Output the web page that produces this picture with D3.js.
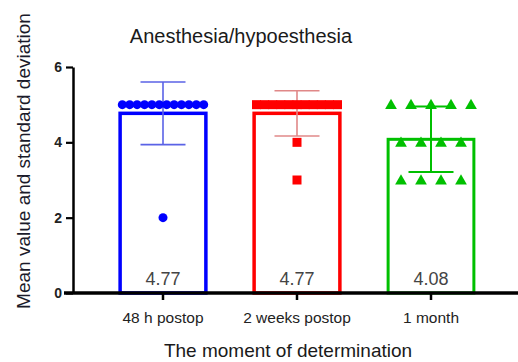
<!DOCTYPE html>
<html>
<head>
<meta charset="utf-8">
<script src="https://cdn.jsdelivr.net/npm/d3@7"></script>
<style>
  body { margin: 0; background: #fff; }
  text { font-family: "Liberation Sans", Arial, sans-serif; }
</style>
</head>
<body>
<svg id="chart" width="518" height="362"></svg>
<script>
// data
const categories = ["48 h postop", "2 weeks postop", "1 month"];
const means = [4.77, 4.77, 4.08];
const sds = [0.83, 0.6, 0.87];
const points48h = [5, 5, 5, 5, 5, 5, 5, 5, 5, 5, 5, 5, 2];
const points2w = [5, 5, 5, 5, 5, 5, 5, 5, 5, 5, 5, 4, 3];
const points1m = [5, 5, 5, 5, 5, 4, 4, 4, 4, 3, 3, 3, 3];
const yTicks = [0, 2, 4, 6];

const colors = ["#0000ff", "#ff0000", "#00c000"];
const errColors = ["#5a62e6", "#e08888", "#00c000"];

const svg = d3.select("#chart");

const xScale = d3.scaleBand()
    .domain(categories)
    .range([96, 498])
    .paddingInner(0.36)
    .paddingOuter(0.18);
const yScale = d3.scaleLinear()
    .domain([0, 6])
    .range([293, 67]);

// title
svg.append("text")
    .attr("x", 241).attr("y", 43)
    .attr("text-anchor", "middle")
    .attr("font-size", 20)
    .attr("fill", "#1a1a1a")
    .text("Anesthesia/hypoesthesia");

// y axis title
svg.append("text")
    .attr("transform", "translate(30,161) rotate(-90)")
    .attr("text-anchor", "middle")
    .attr("font-size", 19)
    .attr("fill", "#1a1a2a")
    .text("Mean value and standard deviation");

// x axis title
svg.append("text")
    .attr("x", 288).attr("y", 357)
    .attr("text-anchor", "middle")
    .attr("font-size", 19)
    .attr("fill", "#1a1a1a")
    .text("The moment of determination");

// bars
const bars = svg.append("g");
bars.selectAll("rect")
    .data(categories)
    .enter().append("rect")
    .attr("x", d => xScale(d))
    .attr("y", (d, i) => yScale(means[i]))
    .attr("width", xScale.bandwidth())
    .attr("height", (d, i) => yScale(0) - yScale(means[i]))
    .attr("fill", "none")
    .attr("stroke", (d, i) => colors[i])
    .attr("stroke-width", (d, i) => i === 2 ? 3 : 3.5);

// value labels
bars.selectAll(".val")
    .data(categories)
    .enter().append("text")
    .attr("class", "val")
    .attr("x", d => xScale(d) + xScale.bandwidth() / 2)
    .attr("y", 285)
    .attr("text-anchor", "middle")
    .attr("font-size", 18)
    .attr("fill", "#444")
    .text((d, i) => means[i].toFixed(2));

// error bars
const capW = 45;
const err = svg.append("g");
categories.forEach((c, i) => {
    const cx = xScale(c) + xScale.bandwidth() / 2;
    const g = err.append("g")
        .attr("stroke", errColors[i])
        .attr("stroke-width", i === 2 ? 2 : 1.6);
    g.append("line")
        .attr("x1", cx).attr("x2", cx)
        .attr("y1", yScale(means[i] + sds[i]))
        .attr("y2", yScale(means[i] - sds[i]));
    [means[i] + sds[i], means[i] - sds[i]].forEach(v => {
        g.append("line")
            .attr("x1", cx - capW / 2).attr("x2", cx + capW / 2)
            .attr("y1", yScale(v)).attr("y2", yScale(v));
    });
});

// scatter points: spread equal values side by side
function spread(values, spacing) {
    const groups = d3.group(values, v => v);
    const out = [];
    groups.forEach((arr, v) => {
        arr.forEach((val, j) => out.push({ v: val, off: (j - (arr.length - 1) / 2) * spacing }));
    });
    return out;
}

const pts = svg.append("g");
const c0 = xScale(categories[0]) + xScale.bandwidth() / 2;
pts.selectAll(".dot")
    .data(spread(points48h, 7.4))
    .enter().append("circle")
    .attr("class", "dot")
    .attr("cx", d => c0 + d.off)
    .attr("cy", d => yScale(d.v))
    .attr("r", 4.5)
    .attr("fill", colors[0]);

const c1 = xScale(categories[1]) + xScale.bandwidth() / 2;
const sq = 9;
pts.selectAll(".sq")
    .data(spread(points2w, 8.1))
    .enter().append("rect")
    .attr("class", "sq")
    .attr("x", d => c1 + d.off - sq / 2)
    .attr("y", d => yScale(d.v) - sq / 2)
    .attr("width", sq).attr("height", sq)
    .attr("fill", colors[1]);

const c2 = xScale(categories[2]) + xScale.bandwidth() / 2;
const tri = d3.symbol().type(d3.symbolTriangle).size(60);
pts.selectAll(".tri")
    .data(spread(points1m, 20))
    .enter().append("path")
    .attr("class", "tri")
    .attr("d", tri)
    .attr("transform", d => `translate(${c2 + d.off},${yScale(d.v) + 1})`)
    .attr("fill", colors[2]);

// y axis
const yAxis = d3.axisLeft(yScale)
    .tickValues(yTicks)
    .tickFormat(d3.format("d"))
    .tickSize(7)
    .tickSizeOuter(0)
    .tickPadding(4);
const yg = svg.append("g")
    .attr("transform", "translate(73,0)")
    .call(yAxis);
yg.select(".domain").attr("stroke", "#000").attr("stroke-width", 2.5);
yg.selectAll(".tick line").attr("stroke", "#000").attr("stroke-width", 2.2);
yg.selectAll(".tick text")
    .attr("font-size", 14).attr("font-weight", "bold")
    .attr("fill", "#222")
    .attr("font-family", "Liberation Sans, Arial, sans-serif");

// x axis
const xAxis = d3.axisBottom(xScale)
    .tickSize(7)
    .tickSizeOuter(0)
    .tickPadding(12);
const xg = svg.append("g")
    .attr("transform", `translate(0,${yScale(0)})`)
    .call(xAxis);
xg.select(".domain").attr("d", "M64,0H518").attr("stroke", "#000").attr("stroke-width", 3.5);
xg.selectAll(".tick line").attr("stroke", "#000").attr("stroke-width", 2.5);
xg.selectAll(".tick text")
    .attr("font-size", 15.5)
    .attr("fill", "#222")
    .attr("font-family", "Liberation Sans, Arial, sans-serif");
</script>
</body>
</html>
